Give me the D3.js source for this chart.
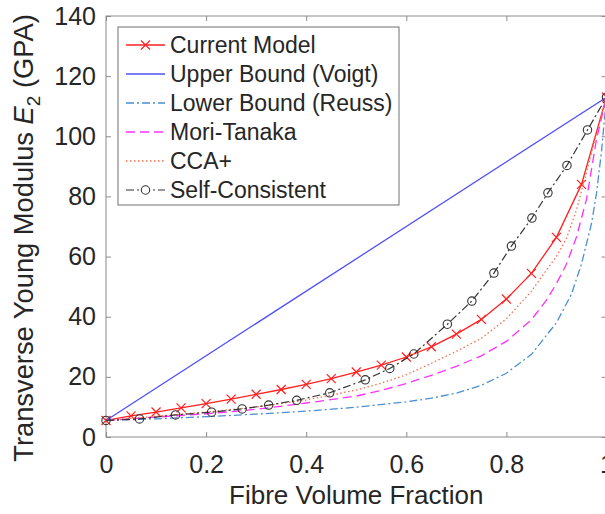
<!DOCTYPE html>
<html><head><meta charset="utf-8">
<script src="https://cdn.jsdelivr.net/npm/d3@7"></script>
<style>body{margin:0;background:#fff} svg{display:block} text{font-family:"Liberation Sans",Arial,Helvetica,sans-serif}</style>
</head><body><svg id="c" width="605" height="514"></svg>
<script>
// ---- data ----
const currentX = [0,0.05,0.1,0.15,0.2,0.25,0.3,0.35,0.4,0.45,0.5,0.55,0.6,0.65,0.7,0.75,0.8,0.85,0.9,0.95,1];
const currentY = [5.5,7.0,8.3,9.7,11.1,12.6,14.2,15.8,17.5,19.4,21.6,23.9,26.6,30.0,34.2,39.1,45.9,54.4,66.4,84.0,113];
const voigtX = [0,1];
const voigtY = [5.5,113];
const reussX = [0,0.1,0.2,0.3,0.4,0.5,0.6,0.65,0.7,0.75,0.8,0.85,0.9,0.93,0.95,0.97,0.98,0.99,1];
const reussY = [5.5,6.05,6.75,7.6,8.6,9.9,11.7,12.9,14.6,17.2,21.2,27.5,38,47.5,57.5,71,81,95,113];
const moriX = [0,0.1,0.2,0.3,0.4,0.5,0.55,0.6,0.65,0.7,0.75,0.8,0.85,0.88,0.9,0.92,0.94,0.96,0.98,1];
const moriY = [5.5,6.6,7.7,9.2,11.3,13.6,15.5,17.8,20.5,23.5,27.0,31.8,39.0,45.5,51,57.5,66.5,79,99,113];
const ccaX = [0,0.1,0.2,0.3,0.4,0.5,0.55,0.6,0.65,0.7,0.75,0.8,0.85,0.88,0.9,0.92,0.94,0.96,0.98,1];
const ccaY = [5.5,6.9,8.3,10.0,12.3,15.6,17.9,20.7,24.5,28.5,32.8,39.3,48.5,55.5,60,66,75.5,88,101,113];
const selfX = [0,0.067,0.139,0.211,0.272,0.325,0.381,0.447,0.518,0.567,0.615,0.682,0.731,0.775,0.81,0.851,0.883,0.921,0.962,1];
const selfY = [5.5,6.0,7.35,8.25,9.35,10.6,12.2,14.7,19.0,22.8,27.6,37.5,45.2,54.5,63.5,72.8,81.2,90.3,102.1,113];
const xTicks = [0,0.2,0.4,0.6,0.8,1];
const xTickLabels = ["0","0.2","0.4","0.6","0.8","1"];
const yTicks = [0,20,40,60,80,100,120,140];
const legendLabels = ["Current Model","Upper Bound (Voigt)","Lower Bound (Reuss)","Mori-Tanaka","CCA+","Self-Consistent"];

// ---- layout ----
const L = 106, R = 606.5, T = 16, B = 437;
const x = d3.scaleLinear().domain([0,1]).range([L,R]);
const y = d3.scaleLinear().domain([0,140]).range([B,T]);
const svg = d3.select("#c");
const axisCol = "#8c8c8c", textCol = "#262626";

const series = [
  {name:legendLabels[0], xs:currentX, ys:currentY, color:"#ff2020", dash:null, marker:"x", w:1.3},
  {name:legendLabels[1], xs:voigtX, ys:voigtY, color:"#5050f5", dash:null, marker:null, w:1.3},
  {name:legendLabels[2], xs:reussX, ys:reussY, color:"#4a8fd2", dash:"8,3,2,3", marker:null, w:1.3},
  {name:legendLabels[3], xs:moriX, ys:moriY, color:"#ff30ff", dash:"9,5", marker:null, w:1.3},
  {name:legendLabels[4], xs:ccaX, ys:ccaY, color:"#f07050", dash:"1.5,2.5", marker:null, w:1.3},
  {name:legendLabels[5], xs:selfX, ys:selfY, color:"#333333", dash:"8,3,2,3", marker:"o", w:1.2}
];

// axes box
svg.append("rect").attr("x",L).attr("y",T).attr("width",R-L).attr("height",B-T)
  .attr("fill","none").attr("stroke",axisCol).attr("stroke-width",1);

// ticks via d3 axes
const gx = svg.append("g").attr("transform",`translate(0,${B})`)
  .call(d3.axisBottom(x).tickValues(xTicks).tickFormat((d,i)=>xTickLabels[i]).tickSizeInner(-5).tickSizeOuter(0).tickPadding(18));
const gxt = svg.append("g").attr("transform",`translate(0,${T})`)
  .call(d3.axisTop(x).tickValues(xTicks).tickFormat("").tickSizeInner(-5).tickSizeOuter(0));
const gy = svg.append("g").attr("transform",`translate(${L},0)`)
  .call(d3.axisLeft(y).tickValues(yTicks).tickSizeInner(-5).tickSizeOuter(0).tickPadding(10));
const gyr = svg.append("g").attr("transform",`translate(${R},0)`)
  .call(d3.axisRight(y).tickValues(yTicks).tickFormat("").tickSizeInner(-5).tickSizeOuter(0));
[gx,gxt,gy,gyr].forEach(g=>{
  g.select(".domain").remove();
  g.selectAll(".tick line").attr("stroke",axisCol);
  g.selectAll("text").attr("fill",textCol).style("font-size","25px").attr("font-family",null);
});

// lines
const line = d3.line().x(d=>x(d[0])).y(d=>y(d[1]));
series.forEach(s=>{
  const pts = s.xs.map((v,i)=>[v,s.ys[i]]);
  svg.append("path").datum(pts).attr("d",line).attr("fill","none")
    .attr("stroke",s.color).attr("stroke-width",s.w)
    .attr("stroke-dasharray",s.dash);
  if (s.marker==="x") {
    svg.append("g").selectAll("path").data(pts).join("path")
      .attr("d",d=>{const cx=x(d[0]),cy=y(d[1]),r=4.5;return `M${cx-r},${cy-r}L${cx+r},${cy+r}M${cx-r},${cy+r}L${cx+r},${cy-r}`;})
      .attr("stroke",s.color).attr("stroke-width",1.2).attr("fill","none");
  } else if (s.marker==="o") {
    svg.append("g").selectAll("circle").data(pts).join("circle")
      .attr("cx",d=>x(d[0])).attr("cy",d=>y(d[1])).attr("r",4.2)
      .attr("fill","none").attr("stroke",s.color).attr("stroke-width",1.1);
  }
});

// axis labels
svg.append("text").attr("x",(L+R)/2).attr("y",504).attr("text-anchor","middle")
  .attr("fill",textCol).style("font-size","26px").text("Fibre Volume Fraction");
const yl = svg.append("text").attr("transform","translate(33,238) rotate(-90)")
  .attr("text-anchor","middle").attr("fill",textCol).style("font-size","27.3px");
yl.append("tspan").text("Transverse Young Modulus ");
yl.append("tspan").style("font-style","italic").text("E");
yl.append("tspan").attr("dy",7).style("font-size","19px").text("2");
yl.append("tspan").attr("dy",-7).text(" (GPA)");

// legend
const lg = svg.append("g");
lg.append("rect").attr("x",118).attr("y",27).attr("width",281).attr("height",178)
  .attr("fill","#fff").attr("stroke","#707070").attr("stroke-width",1);
const rowY = d3.scaleLinear().domain([0,5]).range([45,190]);
series.forEach((s,i)=>{
  const cy = rowY(i);
  lg.append("line").attr("x1",126).attr("x2",165).attr("y1",cy).attr("y2",cy)
    .attr("stroke",s.color).attr("stroke-width",s.w).attr("stroke-dasharray",s.dash);
  if (s.marker==="x") {
    const r=4.5, cx=145.5;
    lg.append("path").attr("d",`M${cx-r},${cy-r}L${cx+r},${cy+r}M${cx-r},${cy+r}L${cx+r},${cy-r}`)
      .attr("stroke",s.color).attr("stroke-width",1.2);
  } else if (s.marker==="o") {
    lg.append("circle").attr("cx",145.5).attr("cy",cy).attr("r",4.2)
      .attr("fill","#fff").attr("stroke",s.color).attr("stroke-width",1.1);
  }
  lg.append("text").attr("x",170).attr("y",cy+8.3).attr("fill",textCol)
    .style("font-size","23px").text(s.name);
});
</script></body></html>
